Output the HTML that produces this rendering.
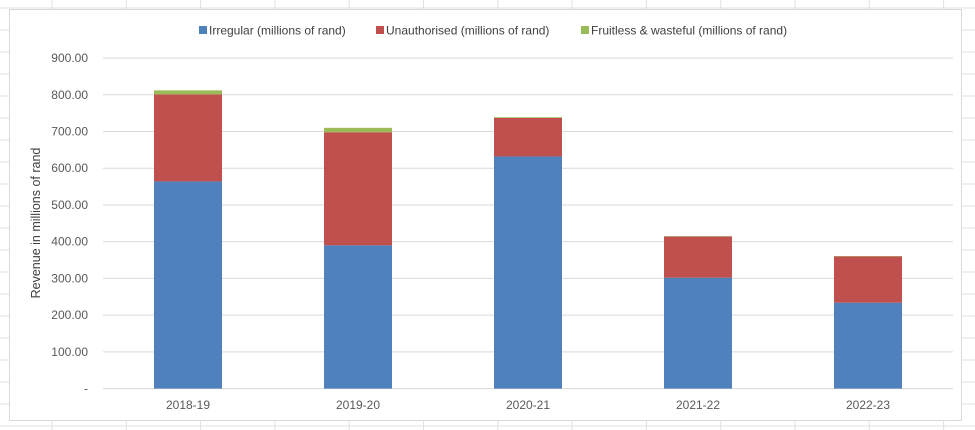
<!DOCTYPE html>
<html><head><meta charset="utf-8"><style>
body{margin:0;background:#fff;font-family:"Liberation Sans",Arial,sans-serif}
svg{display:block}
</style></head><body>
<svg id="c" width="975" height="430" xmlns="http://www.w3.org/2000/svg">
<g id="sheet"></g>
<rect x="9.5" y="9.5" width="952" height="411" fill="#fff" stroke="#d9d9d9"/>
<g id="grid"></g>
<g id="bars"></g>
<g id="axes" font-size="12" fill="#595959"></g>
<text transform="translate(40,223) rotate(-90)" text-anchor="middle" font-size="12.5" fill="#404040">Revenue in millions of rand</text>
<g font-size="12" fill="#404040">
<rect x="199" y="26" width="8" height="8" fill="#4f81bd"/>
<text x="209" y="34.5">Irregular (millions of rand)</text>
<rect x="376" y="26" width="8" height="8" fill="#c0504d"/>
<text x="386" y="34.5">Unauthorised (millions of rand)</text>
<rect x="581" y="26" width="8" height="8" fill="#9bbb59"/>
<text x="591" y="34.5">Fruitless &amp; wasteful (millions of rand)</text>
</g>
</svg>
<script>
const categories=["2018-19","2019-20","2020-21","2021-22","2022-23"];
const irregular=[564,390,632,302,234];
const unauthorised=[237,308,105,112,126];
const fruitless=[11,12,2,1,1];
const yTicks=[0,100,200,300,400,500,600,700,800,900];
const yTickLabels=["-","100.00","200.00","300.00","400.00","500.00","600.00","700.00","800.00","900.00"];
const NS="http://www.w3.org/2000/svg";
const x0=103,x1=953,y0=388.6,pxPer=0.3673;
const y=v=>y0-v*pxPer;
const band=(x1-x0)/categories.length;
function mk(p,t,a){const e=document.createElementNS(NS,t);for(const k in a)e.setAttribute(k,a[k]);p.appendChild(e);return e;}
const sheet=document.getElementById('sheet');
for(let gx=52;gx<975;gx+=74.3){const l=mk(sheet,'line',{x1:gx,x2:gx,y1:0,y2:430,stroke:'#e1e1e1'});

}
for(let gy=8;gy<430;gy+=22){const l=mk(sheet,'line',{x1:0,x2:975,y1:gy,y2:gy,stroke:'#e1e1e1'});

}
const grid=document.getElementById('grid'),axes=document.getElementById('axes'),bars=document.getElementById('bars');
yTicks.forEach((t,i)=>{
 const l=mk(grid,'line',{x1:x0,x2:x1,y1:y(t),y2:y(t),stroke:'#d9d9d9','stroke-width':1});
 
 
 const tx=mk(axes,'text',{x:88,y:y(t)+4,'text-anchor':'end'});tx.textContent=yTickLabels[i];
 
 
});
const bw=68;
categories.forEach((c,i)=>{
 const cx=x0+band*(i+0.5);
 let base=0;
 [[irregular,'#4f81bd','irregular'],[unauthorised,'#c0504d','unauthorised'],[fruitless,'#9bbb59','fruitless']].forEach(([s,col,n])=>{
  const v=s[i];
  const r=mk(bars,'rect',{x:cx-bw/2,y:y(base+v),width:bw,height:v*pxPer,fill:col});
  
  
  base+=v;
 });
 const tx=mk(axes,'text',{x:cx,y:409,'text-anchor':'middle'});tx.textContent=c;
 
 
});
</script>
</body></html>
